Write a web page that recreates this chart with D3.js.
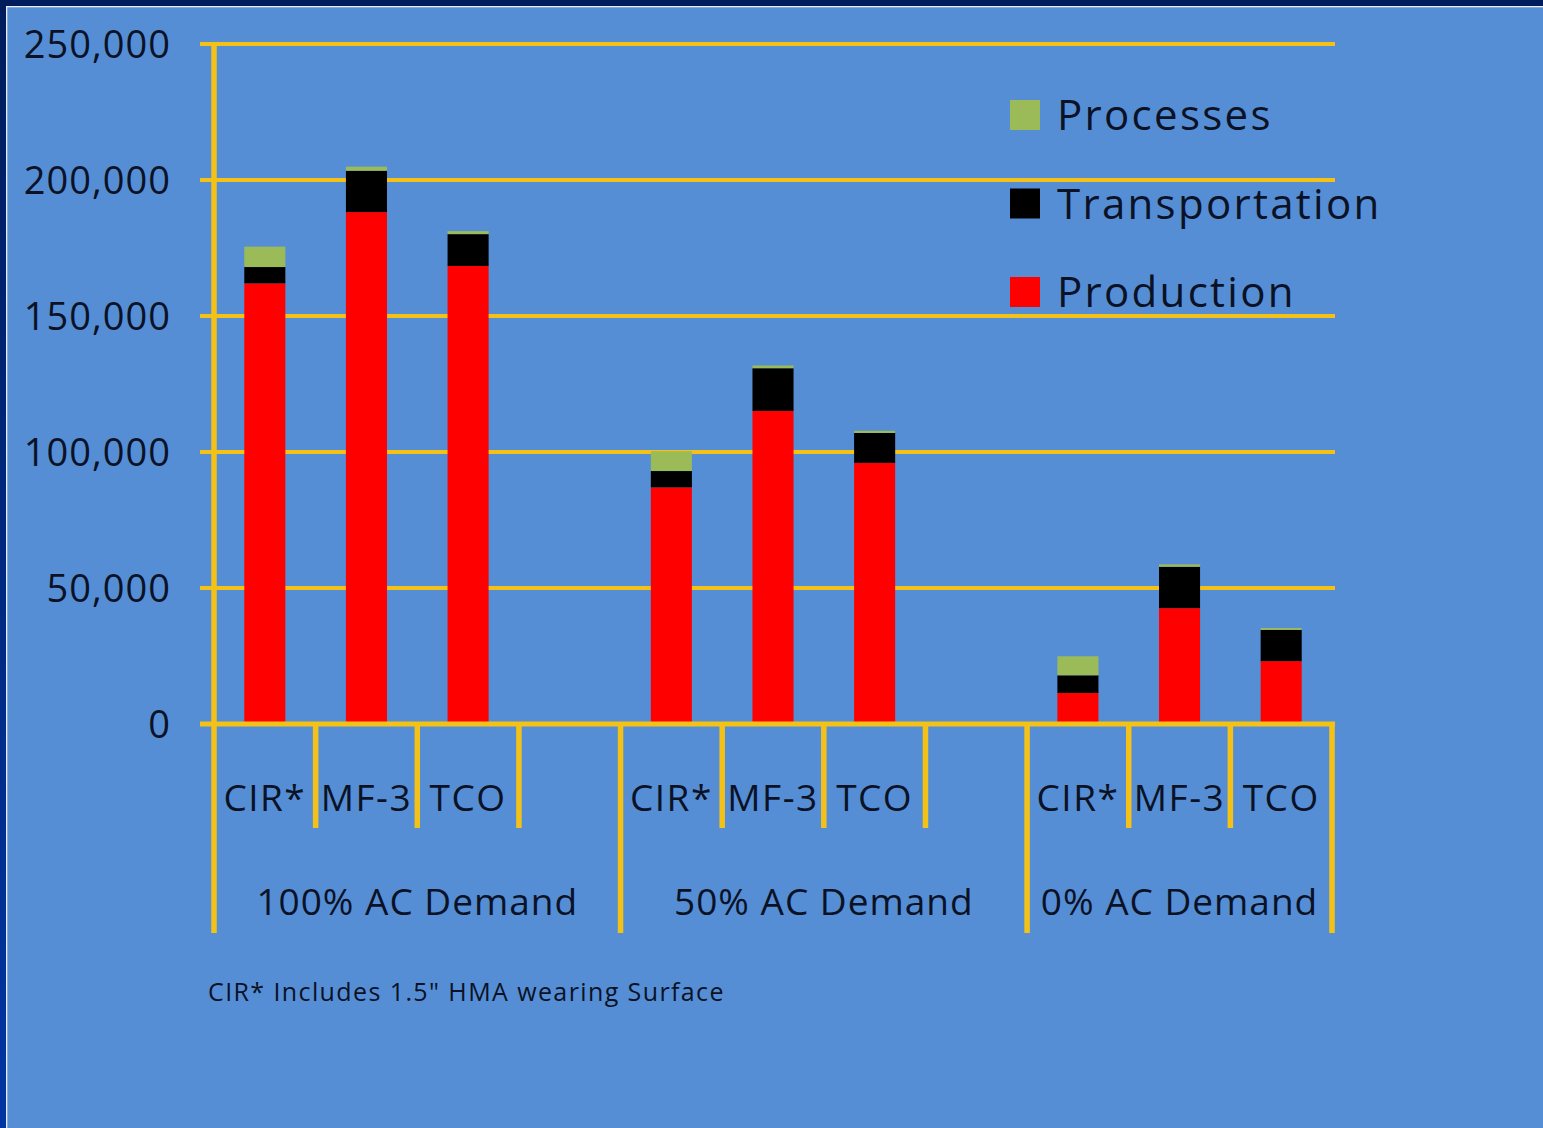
<!DOCTYPE html>
<html>
<head>
<meta charset="utf-8">
<script src="https://cdnjs.cloudflare.com/ajax/libs/d3/7.8.5/d3.min.js"></script>
<style>
  html, body { margin: 0; padding: 0; background: #558ed5; }
  svg { display: block; }
  text { font-family: "Open Sans", Lato, sans-serif; fill: #0b1226; }
</style>
</head>
<body>
<svg id="chart" width="1543" height="1128"></svg>
<script>
// Pavement mix options within each asphalt-cement demand scenario
const groups = ["100% AC Demand", "50% AC Demand", "0% AC Demand"];
const mixes = ["CIR*", "MF-3", "TCO"];

// Stacked components, one value per (group, mix) in reading order
const production     = [162000, 188200, 168400, 87000, 115100, 96000, 11400, 42600, 23100];
const transportation = [  6000,  15200,  11700,  6000,  15700, 11000,  6500, 15200, 11500];
const processes      = [  7500,   1500,   1100,  7300,   1000,   800,  7000,   900,   700];

const seriesNames = ["Production", "Transportation", "Processes"];
const seriesColors = ["#ff0000", "#000000", "#9bbb59"];
const legendOrder = ["Processes", "Transportation", "Production"];

const yTicks = [0, 50000, 100000, 150000, 200000, 250000];
const footnote = "CIR* Includes 1.5\" HMA wearing Surface";

const W = 1543, H = 1128;
const FONT = "'Open Sans', Lato, sans-serif";
const svg = d3.select("#chart");

// Slide frame: dark band on top and left with a thin white rule
const defs = svg.append("defs");
const lg = defs.append("linearGradient").attr("id", "leftBand")
  .attr("x1", 0).attr("y1", 0).attr("x2", 0).attr("y2", 1);
lg.append("stop").attr("offset", "0%").attr("stop-color", "#001c5c");
lg.append("stop").attr("offset", "100%").attr("stop-color", "#0035a2");

svg.append("rect").attr("width", W).attr("height", H).attr("fill", "#558ed5");
svg.append("rect").attr("x", 0).attr("y", 0).attr("width", 6).attr("height", H).attr("fill", "url(#leftBand)");
svg.append("rect").attr("x", 0).attr("y", 0).attr("width", W).attr("height", 6).attr("fill", "#001c5c");
svg.append("rect").attr("x", 6).attr("y", 6).attr("width", 1.3).attr("height", H).attr("fill", "#e8eef8");
svg.append("rect").attr("x", 6).attr("y", 6).attr("width", W).attr("height", 1.3).attr("fill", "#e8eef8");

// Slots: three mixes per group plus an empty spacer slot between groups
const slots = [];
groups.forEach((g, gi) => {
  mixes.forEach(m => slots.push({ key: gi + "|" + m, group: gi, mix: m }));
  if (gi < groups.length - 1) slots.push({ key: gi + "|gap", group: gi, mix: "" });
});

const plotLeft = 214, plotRight = 1332, baseY = 724, topY = 44;
const x = d3.scaleBand().domain(slots.map(s => s.key)).range([plotLeft, plotRight]).padding(0);
const y = d3.scaleLinear().domain([0, 250000]).range([baseY, topY]);

const gold = "#f4c217";

// Horizontal gridlines
svg.append("g").selectAll("line").data(yTicks.filter(t => t > 0)).join("line")
  .attr("x1", 200).attr("x2", plotRight + 3)
  .attr("y1", d => y(d)).attr("y2", d => y(d))
  .attr("stroke", gold).attr("stroke-width", 4);

// Stacked bars
const rows = [];
let i = 0;
groups.forEach((g, gi) => mixes.forEach(m => {
  rows.push({ key: gi + "|" + m, Production: production[i], Transportation: transportation[i], Processes: processes[i] });
  i++;
}));
const stacked = d3.stack().keys(seriesNames)(rows);
const barW = x.bandwidth() * 0.404;

svg.append("g").selectAll("g").data(stacked).join("g")
  .attr("fill", (d, k) => seriesColors[k])
  .selectAll("rect").data(d => d).join("rect")
  .attr("x", d => x(d.data.key) + (x.bandwidth() - barW) / 2)
  .attr("width", barW)
  .attr("y", d => y(d[1]))
  .attr("height", d => y(d[0]) - y(d[1]));

// Value axis labels
const yAxis = d3.axisLeft(y).tickValues(yTicks).tickFormat(d3.format(",")).tickSize(0).tickPadding(43);
const yg = svg.append("g").attr("transform", `translate(${plotLeft},0)`).call(yAxis);
yg.select(".domain").remove();
yg.selectAll("text").attr("font-size", 38).attr("font-family", FONT)
  .attr("letter-spacing", 1).attr("fill", "#0b1226").attr("dy", "0.36em");

// Axis lines
svg.append("line").attr("x1", plotLeft).attr("x2", plotLeft).attr("y1", topY).attr("y2", 933)
  .attr("stroke", gold).attr("stroke-width", 5.5);
svg.append("line").attr("x1", 200).attr("x2", plotRight + 3).attr("y1", baseY).attr("y2", baseY)
  .attr("stroke", gold).attr("stroke-width", 5);

// Category dividers: short between slots, long at group boundaries
const boundaries = slots.map(s => x(s.key)).concat([plotRight]);
const groupEdges = [plotLeft];
groups.forEach((g, gi) => {
  const last = slots.filter(s => s.group === gi).slice(-1)[0];
  groupEdges.push(gi < groups.length - 1 ? x(last.key) + x.bandwidth() : plotRight);
});
svg.append("g").selectAll("line").data(boundaries.filter(b => b > plotLeft)).join("line")
  .attr("x1", d => d).attr("x2", d => d)
  .attr("y1", baseY).attr("y2", d => groupEdges.some(e => Math.abs(e - d) < 1) ? 933 : 828)
  .attr("stroke", gold).attr("stroke-width", 5.5);

// Mix labels under each bar
const xAxis = d3.axisBottom(x).tickSize(0).tickPadding(0)
  .tickFormat(k => slots.find(s => s.key === k).mix);
const xg = svg.append("g").attr("transform", `translate(0,${baseY})`).call(xAxis);
xg.select(".domain").remove();
xg.selectAll("text").attr("font-size", 37).attr("font-family", FONT)
  .attr("letter-spacing", 1.5).attr("fill", "#0b1226").attr("y", 87).attr("dy", 0);

// Scenario labels under each group
svg.append("g").selectAll("text").data(groups).join("text")
  .attr("x", (d, gi) => (groupEdges[gi] + groupEdges[gi + 1]) / 2)
  .attr("y", 915)
  .attr("text-anchor", "middle")
  .attr("font-size", 37)
  .attr("letter-spacing", 1)
  .text(d => d);

// Legend
const legend = svg.append("g").selectAll("g").data(legendOrder).join("g")
  .attr("transform", (d, k) => `translate(1010,${100 + k * 88.5})`);
legend.append("rect").attr("width", 30).attr("height", 30)
  .attr("fill", d => seriesColors[seriesNames.indexOf(d)]);
legend.append("text").attr("x", 47).attr("y", 30).attr("font-size", 42)
  .attr("letter-spacing", 2.3).text(d => d);

// Footnote
svg.append("text").attr("x", 208).attr("y", 1001).attr("font-size", 25)
  .attr("letter-spacing", 1.4).attr("fill", "#1a2440").text(footnote);
</script>
</body>
</html>
